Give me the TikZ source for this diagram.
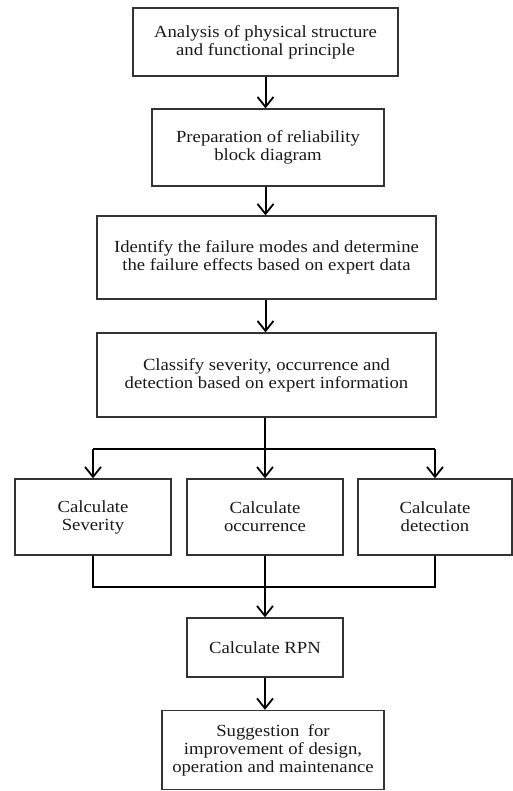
\documentclass[tikz,border=0pt]{standalone}
\usepackage{fontspec}
\setmainfont{Liberation Serif}[FakeStretch=1.1]
\usetikzlibrary{arrows.meta}
\begin{document}
\begin{tikzpicture}[x=1pt,y=-1pt,
  box/.style={draw=black!80, line width=1.3pt, align=center, inner sep=0pt,
    font=\fontsize{17}{18}\selectfont, text=black!90},
  conn/.style={line width=2pt, black},
  arr/.style={conn, -{Straight Barb[length=10pt,width=16pt,line width=1.8pt]}}]
\useasboundingbox (0,0) rectangle (513,791);
\node[box, minimum width=265pt, minimum height=68pt] (b1) at (265.5,42)
  {Analysis of physical structure\\and functional principle};
\node[box, minimum width=232pt, minimum height=77pt] (b2) at (268,147.5)
  {Preparation of reliability\\block diagram};
\node[box, minimum width=339pt, minimum height=83pt] (b3) at (266.5,257.5)
  {Identify the failure modes and determine\\the failure effects based on expert data};
\node[box, minimum width=339pt, minimum height=84pt] (b4) at (266.5,375)
  {Classify severity, occurrence and\\detection based on expert information};
\node[box, minimum width=156pt, minimum height=76pt] (sev) at (93,517)
  {Calculate\\Severity};
\node[box, minimum width=156pt, minimum height=76pt] (occ) at (265,517)
  {Calculate\\occurrence};
\node[box, minimum width=154pt, minimum height=76pt] (det) at (435,517)
  {Calculate\\detection};
\node[box, minimum width=156pt, minimum height=59pt] (rpn) at (265,647.5)
  {Calculate RPN};
\node[box, minimum width=222pt, minimum height=79pt] (sug) at (273,750)
  {Suggestion\enspace for\\improvement of design,\\operation and maintenance};
\coordinate (split) at (265,449);
\coordinate (join) at (265,587);
\draw[arr] (b1.south) -- (b1.south |- b2.north);
\draw[arr] (b2.south -| b1.south) -- (b1.south |- b3.north);
\draw[arr] (b3.south -| b1.south) -- (b1.south |- b4.north);
\draw[conn] (b4.south -| occ) -- (split);
\draw[conn] (split -| sev) -- (split -| det);
\draw[arr] (split -| sev) -- (sev.north);
\draw[arr] (split -| occ) -- (occ.north);
\draw[arr] (split -| det) -- (det.north);
\draw[conn] (sev.south) -- (join -| sev) -- (join -| det) -- (det.south);
\draw[arr] (occ.south) -- (rpn.north);
\draw[arr] (rpn.south) -- (rpn.south |- sug.north);
\end{tikzpicture}
\end{document}
